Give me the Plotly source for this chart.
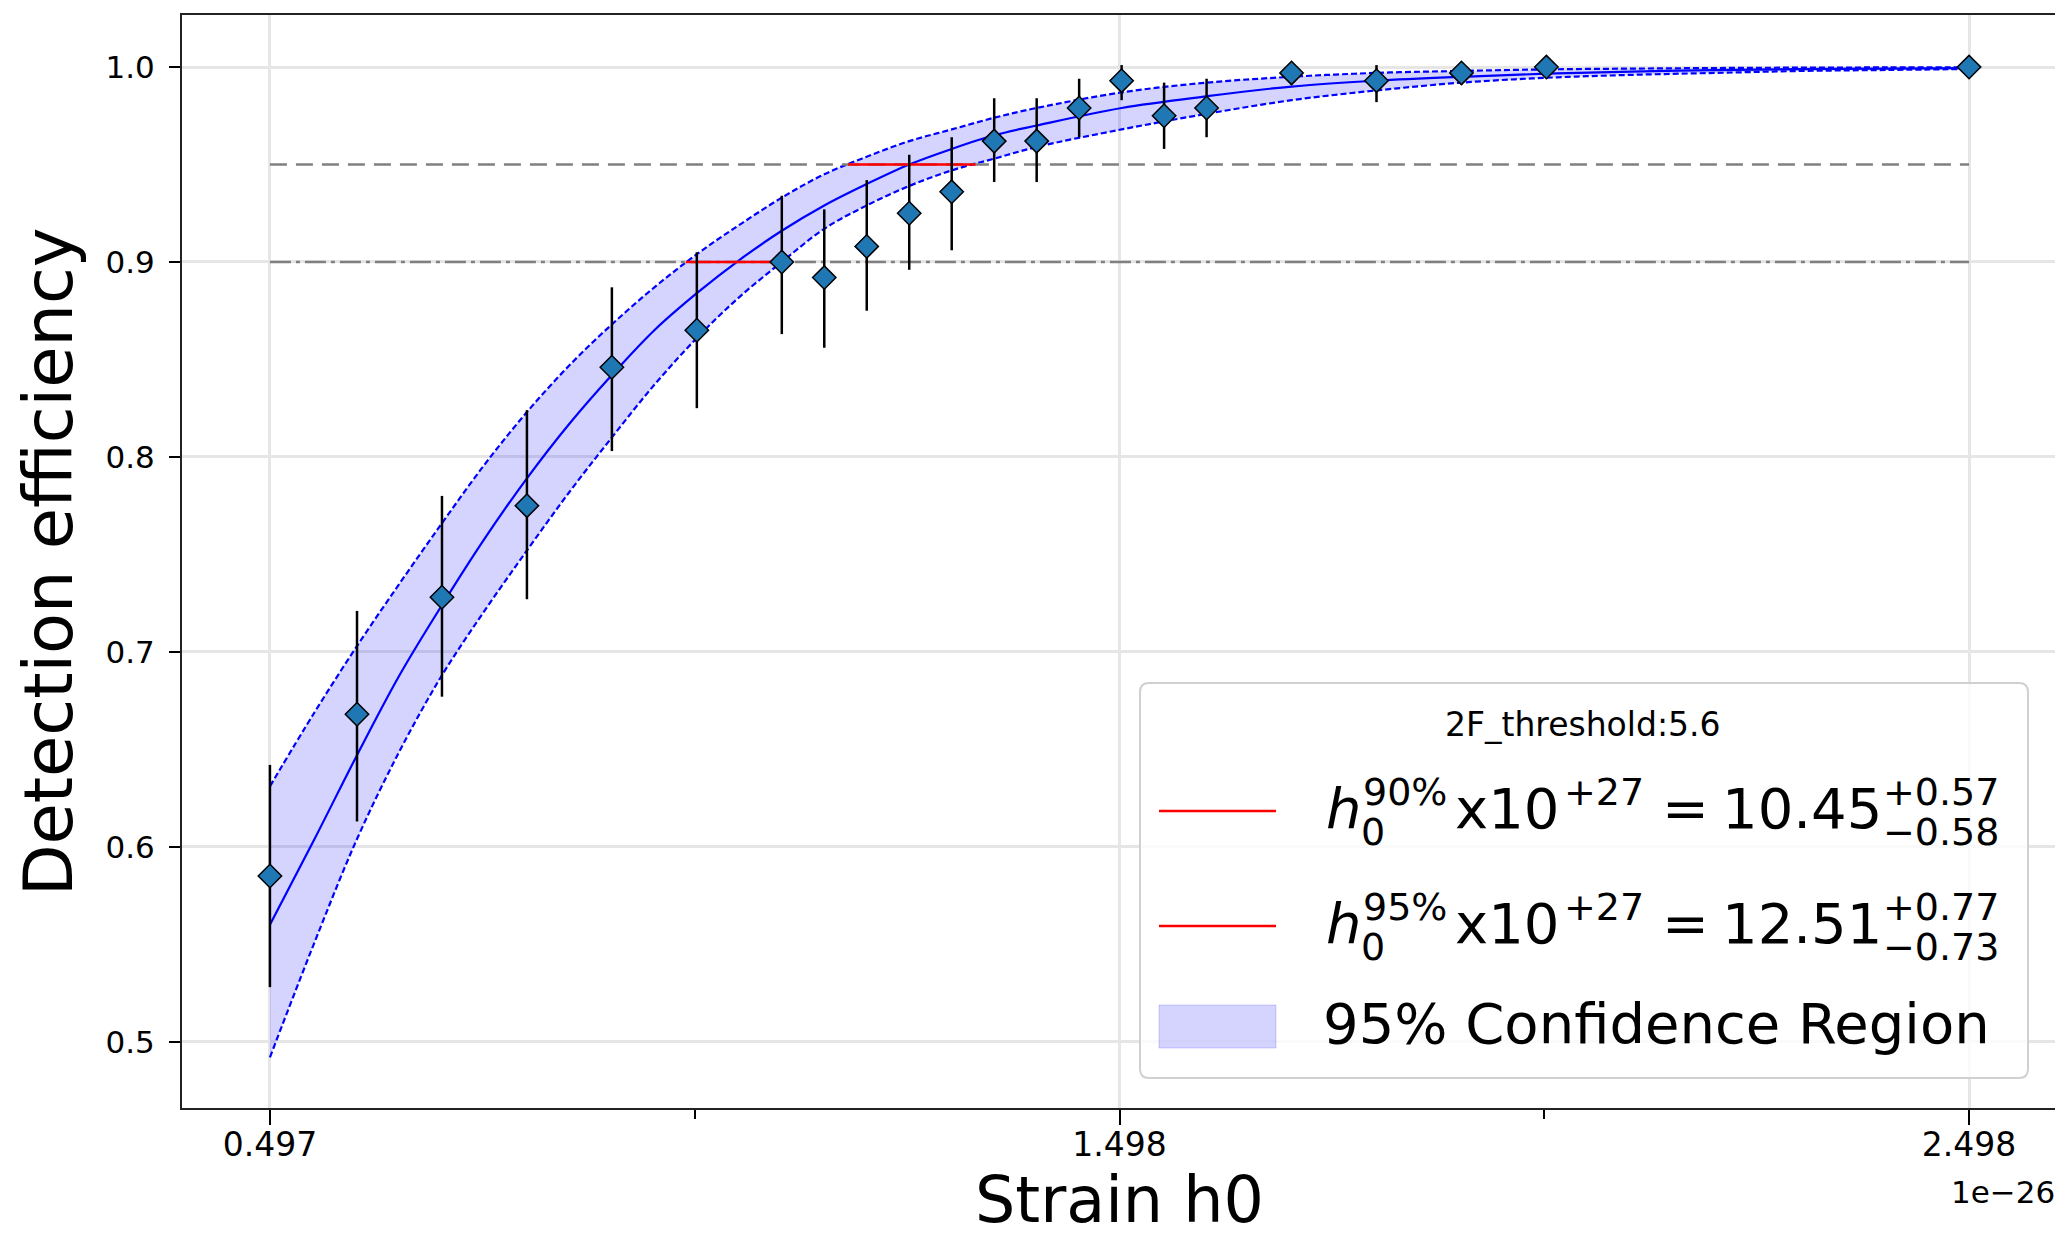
import plotly.graph_objects as go

# ---------------- data (strain in units of 1e-26) ----------------
x_pts = [0.4975, 0.6, 0.7, 0.8, 0.9, 1.0, 1.1, 1.15, 1.2, 1.25, 1.3, 1.35, 1.4,
         1.45, 1.5, 1.55, 1.6, 1.7, 1.8, 1.9, 2.0, 2.4975]
eff = [0.585, 0.668, 0.728, 0.775, 0.846, 0.865, 0.900, 0.892, 0.908, 0.925, 0.936,
       0.962, 0.962, 0.979, 0.993, 0.975, 0.979, 0.997, 0.993, 0.997, 1.0, 1.0]
eff_hi = [0.642, 0.721, 0.780, 0.824, 0.887, 0.905, 0.934, 0.927, 0.942, 0.955, 0.964,
          0.984, 0.984, 0.994, 1.001, 0.992, 0.994, 1.002, 1.001, 1.002, 1.0, 1.0]
eff_lo = [0.528, 0.613, 0.677, 0.727, 0.803, 0.825, 0.863, 0.856, 0.875, 0.896, 0.906,
          0.941, 0.941, 0.964, 0.983, 0.958, 0.964, 0.991, 0.982, 0.991, 1.0, 1.0]

x_fit = [0.4975, 0.55, 0.6, 0.65, 0.7, 0.75, 0.8, 0.85, 0.9, 0.95, 1.0, 1.05, 1.1,
         1.15, 1.2, 1.25, 1.3, 1.35, 1.4, 1.5, 1.6, 1.7, 1.8, 1.9, 2.0, 2.1, 2.2,
         2.3, 2.4, 2.4975]
fit_c = [0.560, 0.604, 0.647, 0.688, 0.724, 0.758, 0.789, 0.817, 0.842, 0.865, 0.884,
         0.901, 0.916, 0.929, 0.940, 0.950, 0.958, 0.965, 0.970, 0.979, 0.985, 0.990,
         0.993, 0.995, 0.9966, 0.9977, 0.9984, 0.9989, 0.9992, 0.9994]
fit_u = [0.631, 0.669, 0.703, 0.735, 0.766, 0.796, 0.823, 0.847, 0.868, 0.887, 0.904,
         0.919, 0.933, 0.945, 0.954, 0.962, 0.968, 0.974, 0.979, 0.987, 0.992, 0.995,
         0.997, 0.998, 0.9988, 0.9992, 0.9995, 0.9997, 0.9998, 0.9998]
fit_l = [0.492, 0.551, 0.604, 0.649, 0.688, 0.721, 0.752, 0.782, 0.810, 0.837, 0.861,
         0.882, 0.900, 0.917, 0.929, 0.939, 0.947, 0.953, 0.959, 0.968, 0.976, 0.983,
         0.988, 0.992, 0.9945, 0.996, 0.997, 0.998, 0.9985, 0.999]

# upper limits (x1e-27) with asymmetric errors
h90, h90_p, h90_m = 10.45, 0.57, 0.58
h95, h95_p, h95_m = 12.51, 0.77, 0.73
levels = [0.9, 0.95]
threshold_label = "2F_threshold:5.6"

x_tickvals = [0.4975, 1.4975, 2.4975]
x_ticktext = ["0.497", "1.498", "2.498"]
x_minor = [0.9975, 1.9975]
y_tickvals = [0.5, 0.6, 0.7, 0.8, 0.9, 1.0]
y_ticktext = ["0.5", "0.6", "0.7", "0.8", "0.9", "1.0"]

# ---------------- layout geometry (page pixels) ----------------
PAGE_W, PAGE_H = 2063, 1237
OFF = 8                      # default body margin of the html page
W_FIG, H_FIG = PAGE_W - OFF, PAGE_H - OFF
L, R, T, B = 182, 2057, 15, 1108
PW, PH = R - L, B - T
FONT = "DejaVu Sans"


def px(x):
    return (x - L) / PW


def py(y):
    return 1 - (y - T) / PH


fig = go.Figure()

# confidence band
fig.add_trace(go.Scatter(x=x_fit, y=fit_u, mode="lines", line_shape="spline",
                         line=dict(color="blue", width=2.2, dash="6px,3px"),
                         showlegend=False, hoverinfo="skip"))
fig.add_trace(go.Scatter(x=x_fit, y=fit_l, mode="lines", line_shape="spline",
                         fill="tonexty", fillcolor="rgba(0,0,255,0.17)",
                         line=dict(color="blue", width=2.2, dash="6px,3px"),
                         showlegend=False, hoverinfo="skip"))
# fit
fig.add_trace(go.Scatter(x=x_fit, y=fit_c, mode="lines", line_shape="spline",
                         line=dict(color="blue", width=2.2), showlegend=False))

# reference levels
fig.add_trace(go.Scatter(x=[x_pts[0], x_pts[-1]], y=[levels[1], levels[1]], mode="lines",
                         line=dict(color="gray", width=2.5, dash="17px,9px"),
                         showlegend=False))
fig.add_trace(go.Scatter(x=[x_pts[0], x_pts[-1]], y=[levels[0], levels[0]], mode="lines",
                         line=dict(color="gray", width=2.5, dash="21px,5px,4px,5px"),
                         showlegend=False))

# red intervals
for h, p, m, lev in [(h90, h90_p, h90_m, levels[0]), (h95, h95_p, h95_m, levels[1])]:
    fig.add_trace(go.Scatter(x=[(h - m) / 10, (h + p) / 10], y=[lev, lev], mode="lines",
                             line=dict(color="red", width=2.5), showlegend=False))

# data points with error bars
err_up = [hi - v for hi, v in zip(eff_hi, eff)]
err_dn = [v - lo for lo, v in zip(eff_lo, eff)]
fig.add_trace(go.Scatter(
    x=x_pts, y=eff, mode="markers",
    marker=dict(symbol="diamond", size=18, color="#1f77b4",
                line=dict(color="black", width=1.5)),
    error_y=dict(type="data", symmetric=False, array=err_up, arrayminus=err_dn,
                 color="black", thickness=2.5, width=0),
    showlegend=False))

# ---------------- manual legend ----------------
bx1, bx2, by1, by2, rr = 1140, 2028, 683, 1078, 9


def P(x, y):
    return f"{px(x):.6f},{py(y):.6f}"


path = (f"M{P(bx1 + rr, by1)} L{P(bx2 - rr, by1)} Q{P(bx2, by1)} {P(bx2, by1 + rr)} "
        f"L{P(bx2, by2 - rr)} Q{P(bx2, by2)} {P(bx2 - rr, by2)} "
        f"L{P(bx1 + rr, by2)} Q{P(bx1, by2)} {P(bx1, by2 - rr)} "
        f"L{P(bx1, by1 + rr)} Q{P(bx1, by1)} {P(bx1 + rr, by1)} Z")
shapes = [dict(type="path", xref="paper", yref="paper", path=path,
               fillcolor="rgba(255,255,255,0.8)", line=dict(color="#d0d0d0", width=2),
               layer="above")]
for ly in (811, 926):
    shapes.append(dict(type="line", xref="paper", yref="paper", x0=px(1159), x1=px(1276),
                       y0=py(ly), y1=py(ly), line=dict(color="red", width=2.5), layer="above"))
shapes.append(dict(type="rect", xref="paper", yref="paper", x0=px(1159), x1=px(1276),
                   y0=py(1005), y1=py(1048), fillcolor="rgba(0,0,255,0.17)",
                   line=dict(color="rgba(0,0,255,0.17)", width=1), layer="above"))

annotations = []


def ann(text, x, baseline, size, xanchor="left", angle=0, yc=None):
    yy = yc if yc is not None else baseline - 0.346 * size
    annotations.append(dict(text=text, x=px(x), y=py(yy), xref="paper", yref="paper",
                            xanchor=xanchor, yanchor="middle", showarrow=False,
                            textangle=angle, borderpad=0,
                            font=dict(family=FONT, size=size, color="black")))


F, FS = 56, 38
ann(threshold_label, 1583, 736, 33, xanchor="center")
for dy, pct, val, pl, mi in [(0, "90%", h90, h90_p, h90_m), (115, "95%", h95, h95_p, h95_m)]:
    base = 828 + dy
    ann("<i>h</i>", 1325, base, F)
    ann(pct, 1362, base - 23, FS)
    ann("0", 1360, base + 17, FS)
    ann("x10", 1454, base, F)
    ann("+27", 1563, base - 23, FS)
    ann("=", 1661, base, F)
    ann(f"{val:.2f}", 1721, base, F)
    ann(f"+{pl:.2f}", 1882, base - 23, FS)
    ann(f"\u2212{mi:.2f}", 1882, base + 17, FS)
ann("95% Confidence Region", 1322, 1043, F)

# axis titles & offset text
ann("Detection efficiency", 49, 0, 67, xanchor="center", angle=-90, yc=562)
ann("Strain h0", (L + R) / 2, 1222, 63.5, xanchor="center")
annotations.append(dict(text="1e\u221226", x=px(2056), y=py(1203 - 0.346 * 31), xref="paper",
                        yref="paper", xanchor="right", yanchor="middle", showarrow=False,
                        borderpad=0, font=dict(family=FONT, size=31, color="black")))

fig.update_layout(
    width=W_FIG, height=H_FIG,
    margin=dict(l=L - OFF, r=PAGE_W - R, t=T - OFF, b=PAGE_H - B, autoexpand=False),
    paper_bgcolor="white", plot_bgcolor="white",
    showlegend=False,
    shapes=shapes, annotations=annotations,
    xaxis=dict(range=[0.394, 2.601], tickmode="array", tickvals=x_tickvals,
               ticktext=x_ticktext, ticks="outside", ticklen=15, tickwidth=2,
               tickcolor="black", ticklabelstandoff=-9,
               tickfont=dict(family=FONT, size=33, color="black"),
               showline=True, linecolor="#222222", linewidth=2, mirror=True,
               showgrid=True, gridcolor="#e6e6e6", gridwidth=3, zeroline=False,
               minor=dict(tickmode="array", tickvals=x_minor, ticks="outside",
                          ticklen=9, tickwidth=1.5, tickcolor="black", showgrid=False)),
    yaxis=dict(range=[0.466, 1.0267], tickmode="array", tickvals=y_tickvals,
               ticktext=y_ticktext, ticks="outside", ticklen=11, tickwidth=2,
               tickcolor="black", ticklabelstandoff=8,
               tickfont=dict(family=FONT, size=31, color="black"),
               showline=True, linecolor="#222222", linewidth=2, mirror=True,
               showgrid=True, gridcolor="#e6e6e6", gridwidth=3, zeroline=False),
)

fig.write_html("out.html")
